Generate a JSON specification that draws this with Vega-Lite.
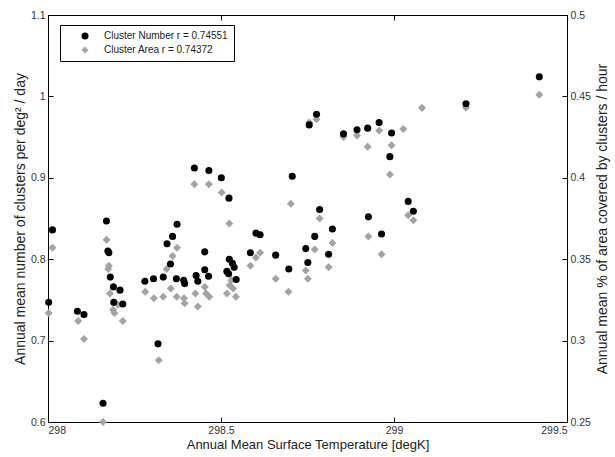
{
  "$schema": "https://vega.github.io/schema/vega-lite/v6.json",
  "width": 519,
  "height": 407,
  "autosize": {"type": "none"},
  "padding": {"left": 48, "top": 15, "right": 48, "bottom": 35},
  "background": "white",
  "config": {
    "view": {"stroke": "black", "strokeWidth": 1},
    "axis": {
      "domainColor": "black",
      "tickColor": "black",
      "tickSize": -5,
      "labelFont": "Liberation Sans",
      "labelFontSize": 10.5,
      "labelColor": "#333333",
      "titleFont": "Liberation Sans",
      "titleFontSize": 14,
      "titleFontWeight": "normal",
      "titleColor": "#222222",
      "grid": false
    },
    "legend": {
      "orient": "none",
      "legendX": 12,
      "legendY": 10,
      "strokeColor": "black",
      "fillColor": "white",
      "padding": 6,
      "symbolSize": 50,
      "symbolStrokeWidth": 0,
      "labelFont": "Liberation Sans",
      "labelFontSize": 10,
      "labelColor": "#222222",
      "rowPadding": 4,
      "symbolOffset": 14,
      "labelOffset": 14
    }
  },
  "datasets": {
    "num": [
      {"T": 298.002, "v": 0.747}, {"T": 298.013, "v": 0.836}, {"T": 298.085, "v": 0.736}, {"T": 298.104, "v": 0.732},
      {"T": 298.169, "v": 0.847}, {"T": 298.173, "v": 0.810}, {"T": 298.176, "v": 0.808}, {"T": 298.180, "v": 0.778},
      {"T": 298.189, "v": 0.766}, {"T": 298.190, "v": 0.747}, {"T": 298.208, "v": 0.762}, {"T": 298.216, "v": 0.745},
      {"T": 298.159, "v": 0.623}, {"T": 298.280, "v": 0.773}, {"T": 298.305, "v": 0.776}, {"T": 298.318, "v": 0.696},
      {"T": 298.333, "v": 0.778}, {"T": 298.344, "v": 0.819}, {"T": 298.354, "v": 0.794}, {"T": 298.360, "v": 0.828},
      {"T": 298.373, "v": 0.843}, {"T": 298.371, "v": 0.776}, {"T": 298.392, "v": 0.774}, {"T": 298.395, "v": 0.770},
      {"T": 298.423, "v": 0.912}, {"T": 298.465, "v": 0.909}, {"T": 298.501, "v": 0.900}, {"T": 298.523, "v": 0.875},
      {"T": 298.453, "v": 0.809}, {"T": 298.453, "v": 0.787}, {"T": 298.464, "v": 0.779}, {"T": 298.428, "v": 0.780},
      {"T": 298.433, "v": 0.773}, {"T": 298.524, "v": 0.800}, {"T": 298.533, "v": 0.795}, {"T": 298.517, "v": 0.785},
      {"T": 298.522, "v": 0.782}, {"T": 298.538, "v": 0.790}, {"T": 298.544, "v": 0.775}, {"T": 298.585, "v": 0.808},
      {"T": 298.601, "v": 0.832}, {"T": 298.613, "v": 0.830}, {"T": 298.658, "v": 0.805}, {"T": 298.696, "v": 0.788},
      {"T": 298.706, "v": 0.902}, {"T": 298.776, "v": 0.978}, {"T": 298.755, "v": 0.965}, {"T": 298.854, "v": 0.954},
      {"T": 298.893, "v": 0.959}, {"T": 298.924, "v": 0.961}, {"T": 298.957, "v": 0.968}, {"T": 298.993, "v": 0.955},
      {"T": 298.988, "v": 0.926}, {"T": 299.208, "v": 0.991}, {"T": 298.785, "v": 0.861}, {"T": 298.926, "v": 0.852},
      {"T": 299.041, "v": 0.871}, {"T": 299.056, "v": 0.859}, {"T": 298.822, "v": 0.837}, {"T": 298.771, "v": 0.828},
      {"T": 298.745, "v": 0.813}, {"T": 298.811, "v": 0.806}, {"T": 298.751, "v": 0.796}, {"T": 298.964, "v": 0.831},
      {"T": 299.420, "v": 1.024}
    ],
    "area": [
      {"T": 298.002, "v": 0.317}, {"T": 298.013, "v": 0.357}, {"T": 298.087, "v": 0.312}, {"T": 298.104, "v": 0.301},
      {"T": 298.169, "v": 0.362}, {"T": 298.176, "v": 0.346}, {"T": 298.174, "v": 0.344}, {"T": 298.179, "v": 0.329},
      {"T": 298.188, "v": 0.319}, {"T": 298.192, "v": 0.317}, {"T": 298.216, "v": 0.312}, {"T": 298.159, "v": 0.250},
      {"T": 298.281, "v": 0.330}, {"T": 298.306, "v": 0.326}, {"T": 298.320, "v": 0.288}, {"T": 298.333, "v": 0.327},
      {"T": 298.343, "v": 0.344}, {"T": 298.360, "v": 0.352}, {"T": 298.373, "v": 0.357}, {"T": 298.355, "v": 0.332},
      {"T": 298.372, "v": 0.327}, {"T": 298.393, "v": 0.326}, {"T": 298.395, "v": 0.323}, {"T": 298.423, "v": 0.396},
      {"T": 298.465, "v": 0.396}, {"T": 298.502, "v": 0.391}, {"T": 298.524, "v": 0.372}, {"T": 298.426, "v": 0.329},
      {"T": 298.433, "v": 0.321}, {"T": 298.453, "v": 0.333}, {"T": 298.457, "v": 0.329}, {"T": 298.466, "v": 0.327},
      {"T": 298.517, "v": 0.329}, {"T": 298.525, "v": 0.334}, {"T": 298.530, "v": 0.337}, {"T": 298.543, "v": 0.327},
      {"T": 298.535, "v": 0.332}, {"T": 298.585, "v": 0.346}, {"T": 298.601, "v": 0.351}, {"T": 298.613, "v": 0.354},
      {"T": 298.658, "v": 0.338}, {"T": 298.695, "v": 0.330}, {"T": 298.702, "v": 0.384}, {"T": 298.202, "v": 0.322},
      {"T": 298.776, "v": 0.436}, {"T": 298.755, "v": 0.434}, {"T": 298.854, "v": 0.425}, {"T": 298.893, "v": 0.426},
      {"T": 298.924, "v": 0.419}, {"T": 298.957, "v": 0.429}, {"T": 298.993, "v": 0.420}, {"T": 298.988, "v": 0.402},
      {"T": 299.027, "v": 0.430}, {"T": 299.081, "v": 0.443}, {"T": 299.208, "v": 0.443}, {"T": 298.785, "v": 0.375},
      {"T": 298.926, "v": 0.364}, {"T": 299.041, "v": 0.377}, {"T": 299.056, "v": 0.374}, {"T": 298.822, "v": 0.360},
      {"T": 298.771, "v": 0.356}, {"T": 298.745, "v": 0.343}, {"T": 298.811, "v": 0.345}, {"T": 298.751, "v": 0.338},
      {"T": 298.964, "v": 0.353}, {"T": 299.420, "v": 0.451}
    ]
  },
  "layer": [
    {
      "data": {"name": "area"},
      "mark": {"type": "point", "filled": true, "opacity": 1, "size": 64},
      "encoding": {
        "x": {
          "field": "T", "type": "quantitative",
          "scale": {"domain": [298, 299.5], "nice": false, "zero": false},
          "axis": {"orient": "top", "labels": false, "title": null, "values": [298, 298.5, 299, 299.5]}
        },
        "y": {
          "field": "v", "type": "quantitative",
          "scale": {"domain": [0.25, 0.5], "nice": false, "zero": false},
          "axis": {
            "orient": "right",
            "values": [0.25, 0.3, 0.35, 0.4, 0.45, 0.5],
            "labelExpr": "'' + round(datum.value * 100) / 100",
            "title": "Annual mean % of area covered by clusters / hour",
            "titleAngle": -90,
            "titleBaseline": "top",
            "titlePadding": 5,
            "labelPadding": 8
          }
        },
        "color": {
          "datum": "Cluster Area r = 0.74372",
          "type": "nominal",
          "scale": {"domain": ["Cluster Number r = 0.74551", "Cluster Area r = 0.74372"], "range": ["black", "#a3a3a3"]},
          "legend": {"title": null}
        },
        "shape": {
          "datum": "Cluster Area r = 0.74372",
          "type": "nominal",
          "scale": {"domain": ["Cluster Number r = 0.74551", "Cluster Area r = 0.74372"], "range": ["circle", "diamond"]},
          "legend": {"title": null}
        }
      }
    },
    {
      "data": {"name": "num"},
      "mark": {"type": "point", "filled": true, "opacity": 1, "size": 50},
      "encoding": {
        "x": {
          "field": "T", "type": "quantitative",
          "scale": {"domain": [298, 299.5], "nice": false, "zero": false},
          "axis": {
            "orient": "bottom",
            "values": [298, 298.5, 299, 299.5],
            "labelExpr": "'' + datum.value",
            "title": "Annual Mean Surface Temperature [degK]",
            "titleFontSize": 13,
            "titlePadding": 3,
            "labelPadding": 8
          }
        },
        "y": {
          "field": "v", "type": "quantitative",
          "scale": {"domain": [0.6, 1.1], "nice": false, "zero": false},
          "axis": {
            "orient": "left",
            "values": [0.6, 0.7, 0.8, 0.9, 1, 1.1],
            "labelExpr": "'' + round(datum.value * 10) / 10",
            "title": "Annual mean number of clusters per deg² / day",
            "titlePadding": 3,
            "labelPadding": 8
          }
        },
        "color": {"datum": "Cluster Number r = 0.74551", "type": "nominal"},
        "shape": {"datum": "Cluster Number r = 0.74551", "type": "nominal"}
      }
    }
  ],
  "resolve": {"scale": {"y": "independent"}, "axis": {"x": "independent"}}
}
